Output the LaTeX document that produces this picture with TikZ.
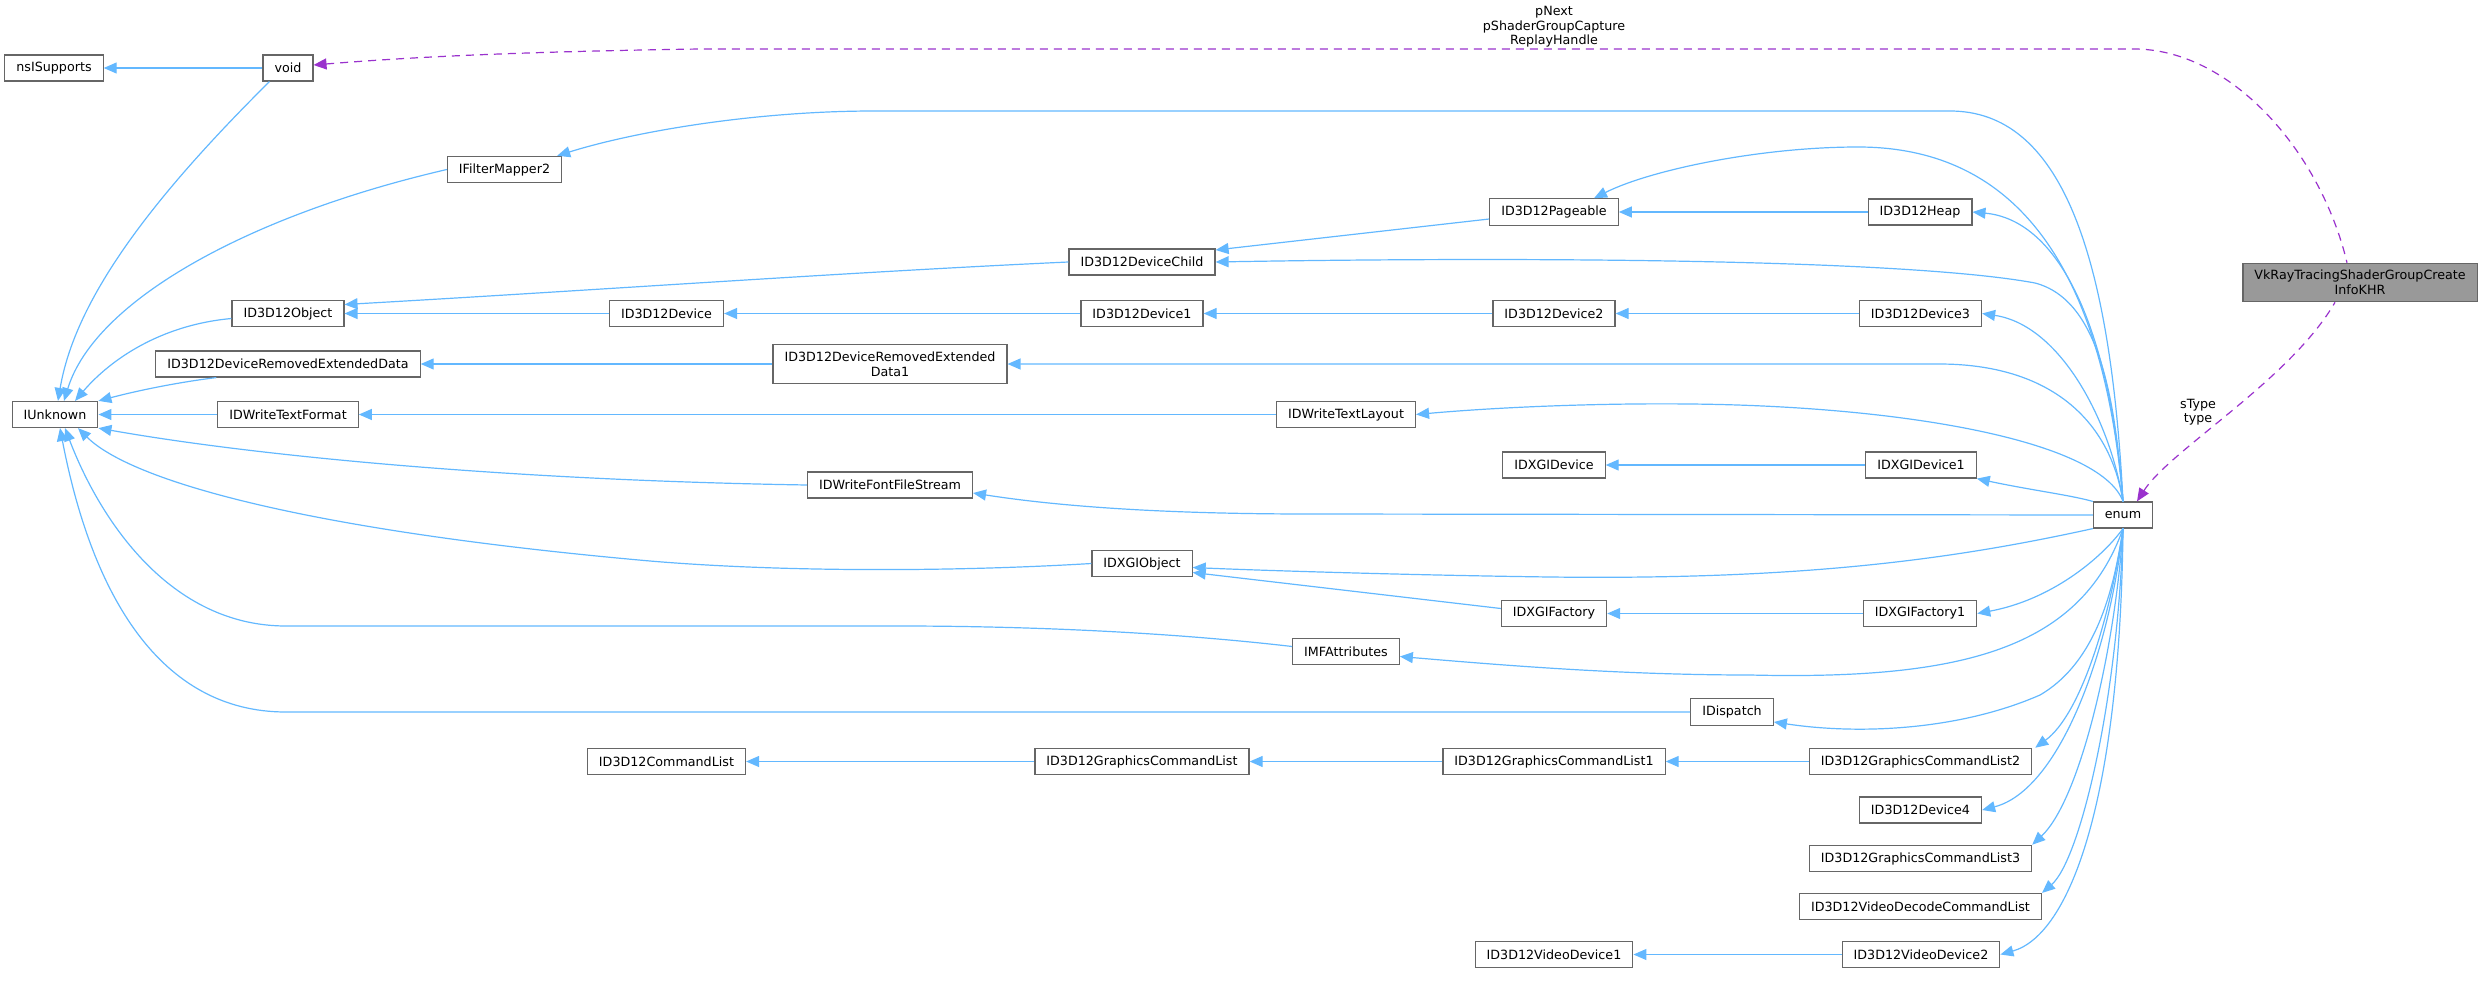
\documentclass[tikz,border=0pt]{standalone}
\usepackage{fontspec}
\setmainfont{DejaVu Sans}
\usetikzlibrary{arrows.meta, calc}
\definecolor{EdgeBlue}{RGB}{99, 184, 255}
\definecolor{RefPurple}{RGB}{154, 50, 205}
\definecolor{BoxBorder}{RGB}{102, 102, 102}
\definecolor{FocusFill}{RGB}{153, 153, 153}

\begin{document}
\begin{tikzpicture}[
        x=0.5pt, y=-0.5pt,
        font=\fontsize{6.35}{7.3}\selectfont,
        cls/.style={draw=BoxBorder, line width=0.6pt, fill=white, minimum height=13pt, inner xsep=5.75pt, inner ysep=3.5pt, align=center},
        focus/.style={cls, fill=FocusFill},
        inh/.style={draw=EdgeBlue, line width=0.6pt, {Triangle[length=6.5pt,width=5.5pt]}-},
        member/.style={draw=RefPurple, line width=0.6pt, dash pattern=on 4pt off 3pt, {Triangle[length=6.5pt,width=5.5pt]}-},
        lbl/.style={align=center}
    ]
        \useasboundingbox (0,0) rectangle (2484,985);

        % left columns
        \node[cls] (nsisupports) at (54,68) {nsISupports};
        \node[cls] (void) at (288,68) {void};
        \node[cls] (iunknown) at (55,414.5) {IUnknown};
        \node[cls] (ifm) at (504.5,169.5) {IFilterMapper2};
        \node[cls] (d3dobject) at (288,313.5) {ID3D12Object};
        \node[cls] (dred) at (288,364) {ID3D12DeviceRemovedExtendedData};
        \node[cls] (dwtf) at (288,414.5) {IDWriteTextFormat};

        % middle columns
        \node[cls] (d3ddevice) at (666.5,313.5) {ID3D12Device};
        \node[cls] (cmdlist) at (666.5,761.5) {ID3D12CommandList};
        \node[cls] (dred1) at (890,364) {ID3D12DeviceRemovedExtended\\Data1};
        \node[cls] (ffs) at (890,485) {IDWriteFontFileStream};
        \node[cls] (dchild) at (1142,262) {ID3D12DeviceChild};
        \node[cls] (d3ddevice1) at (1142,313.5) {ID3D12Device1};
        \node[cls] (dxgiobject) at (1142,563.5) {IDXGIObject};
        \node[cls] (gfxcmdlist) at (1142,761.5) {ID3D12GraphicsCommandList};
        \node[cls] (dwtl) at (1346,414.5) {IDWriteTextLayout};
        \node[cls] (imf) at (1346,651.5) {IMFAttributes};

        % right columns
        \node[cls] (pageable) at (1554,212) {ID3D12Pageable};
        \node[cls] (d3ddevice2) at (1554,313.5) {ID3D12Device2};
        \node[cls] (dxgidevice) at (1554,465) {IDXGIDevice};
        \node[cls] (dxgifactory) at (1554,613.5) {IDXGIFactory};
        \node[cls] (gfxcmdlist1) at (1554,761.5) {ID3D12GraphicsCommandList1};
        \node[cls] (vdev1) at (1554,954.5) {ID3D12VideoDevice1};
        \node[cls] (idispatch) at (1732,712) {IDispatch};
        \node[cls] (heap) at (1920,212) {ID3D12Heap};
        \node[cls] (d3ddevice3) at (1920.5,313.5) {ID3D12Device3};
        \node[cls] (dxgidevice1) at (1921,465) {IDXGIDevice1};
        \node[cls] (dxgifactory1) at (1920,613.5) {IDXGIFactory1};
        \node[cls] (gfxcmdlist2) at (1920.5,761.5) {ID3D12GraphicsCommandList2};
        \node[cls] (d3ddevice4) at (1920.5,810) {ID3D12Device4};
        \node[cls] (gfxcmdlist3) at (1920.5,858.5) {ID3D12GraphicsCommandList3};
        \node[cls] (vdecode) at (1920.5,906.5) {ID3D12VideoDecodeCommandList};
        \node[cls] (vdev2) at (1921,954.5) {ID3D12VideoDevice2};
        \node[cls] (enum) at (2123,515) {enum};
        \node[focus] (vkray) at (2360,282.5) {VkRayTracingShaderGroupCreate\\InfoKHR};

        % edge labels
        \node[lbl] (nextlbl) at (1554,27) {pNext\\pShaderGroupCapture\\ReplayHandle};
        \node[lbl] (typelbl) at (2198,412) {sType\\type};

        % straight inheritance
        \draw[inh] (nsisupports) -- (void);
        \draw[inh] (iunknown) -- (dwtf);
        \draw[inh] (d3dobject) -- (d3ddevice);
        \draw[inh] (d3ddevice) -- (d3ddevice1);
        \draw[inh] (d3ddevice1) -- (d3ddevice2);
        \draw[inh] (d3ddevice2) -- (d3ddevice3);
        \draw[inh] (dred) -- (dred1);
        \draw[inh] (dwtf) -- (dwtl);
        \draw[inh] (pageable) -- (heap);
        \draw[inh] (dxgidevice) -- (dxgidevice1);
        \draw[inh] (dxgifactory) -- (dxgifactory1);
        \draw[inh] (cmdlist) -- (gfxcmdlist);
        \draw[inh] (gfxcmdlist) -- (gfxcmdlist1);
        \draw[inh] (gfxcmdlist1) -- (gfxcmdlist2);
        \draw[inh] (vdev1) -- (vdev2);
        \draw[inh] ($(dchild.east)+(0,-12)$) -- ($(pageable.west)+(0,7)$);
        \draw[inh] ($(dxgiobject.east)+(0,9)$) -- ($(dxgifactory.west)+(0,-5)$);

        % into IUnknown
        \draw[inh] ($(iunknown.north)+(3,0)$) .. controls (75,300) and (150,200) .. ($(void.south west)+(7,0)$);
        \draw[inh] ($(iunknown.north)+(9,0)$) .. controls (95,300) and (250,215) .. (ifm.west);
        \draw[inh] ($(iunknown.north)+(20,0)$) .. controls (110,360) and (160,325) .. ($(d3dobject.west)+(0,5)$);
        \draw[inh] (iunknown.north east) .. controls (140,390) and (180,382) .. ($(dred.south west)+(61,0)$);
        \draw[inh] (iunknown.south east) .. controls (250,455) and (500,480) .. (ffs.west);
        \draw[inh] ($(iunknown.south)+(23,0)$) .. controls (130,480) and (300,530) .. (650,561) .. controls (780,572) and (950,572) .. (dxgiobject.west);
        \draw[inh] ($(iunknown.south)+(10,0)$) .. controls (100,520) and (170,626) .. (286,626) -- (900,626) .. controls (1000,626) and (1150,630) .. ($(imf.west)+(0,-5)$);
        \draw[inh] ($(iunknown.south)+(5,0)$) .. controls (92,595) and (160,712) .. (286,712) -- (idispatch.west);
        \draw[inh] ($(d3dobject.east)+(0,-9)$) .. controls (600,290) and (850,272) .. (dchild.west);

        % out of enum
        \draw[inh] ($(ifm.north east)+(-5,0)$) .. controls (640,130) and (760,111) .. (874,111) -- (1950,111) .. controls (2060,111) and (2110,250) .. (enum.north);
        \draw[inh] ($(pageable.north)+(40,0)$) .. controls (1650,170) and (1760,147) .. (1858,147) .. controls (1990,147) and (2100,230) .. (enum.north);
        \draw[inh] (dchild.east) .. controls (1500,257) and (1900,258) .. (2035,283) .. controls (2100,300) and (2115,400) .. (enum.north);
        \draw[inh] (heap.east) .. controls (2060,220) and (2110,330) .. (enum.north);
        \draw[inh] (dred1.east) -- (1939,364) .. controls (2050,364) and (2110,420) .. (enum.north);
        \draw[inh] (d3ddevice3.east) .. controls (2060,325) and (2110,420) .. (enum.north);
        \draw[inh] (dwtl.east) .. controls (1500,407) and (1600,403) .. (1690,404) .. controls (1900,406) and (2100,440) .. (enum.north);
        \draw[inh] (dxgidevice1.south east) .. controls (2030,490) and (2070,495) .. (enum.north west);
        \draw[inh] ($(ffs.east)+(0,8)$) .. controls (1050,505) and (1150,514) .. (1310,514) -- (enum.west);
        \draw[inh] ($(dxgiobject.east)+(0,4)$) .. controls (1250,570) and (1400,575) .. (1550,577) .. controls (1800,580) and (1950,560) .. (enum.south west);
        \draw[inh] (dxgifactory1.east) .. controls (2050,600) and (2100,560) .. (enum.south);
        \draw[inh] ($(imf.east)+(0,5)$) .. controls (1500,665) and (1620,675) .. (1750,675) .. controls (1960,680) and (2080,650) .. (enum.south);
        \draw[inh] ($(idispatch.east)+(0,10)$) .. controls (1860,735) and (1960,730) .. (2040,695) .. controls (2100,660) and (2115,580) .. (enum.south);
        \draw[inh] ($(gfxcmdlist2.north east)+(3,0)$) .. controls (2080,715) and (2110,620) .. (enum.south);
        \draw[inh] (d3ddevice4.east) .. controls (2060,790) and (2110,650) .. (enum.south);
        \draw[inh] (gfxcmdlist3.north east) .. controls (2080,800) and (2115,650) .. (enum.south);
        \draw[inh] (vdecode.north east) .. controls (2080,860) and (2118,700) .. (enum.south);
        \draw[inh] (vdev2.east) .. controls (2070,935) and (2120,800) .. (enum.south);

        % usage
        \draw[member] ($(void.east)+(0,-3)$) .. controls (400,58) and (500,52) .. (700,49) -- (2134,49) .. controls (2230,49) and (2320,150) .. ($(vkray.north)+(-13,0)$);
        \draw[member] ($(enum.north)+(14,0)$) .. controls (2170,450) and (2290,380) .. ($(vkray.south)+(-25,0)$);
    \end{tikzpicture}
\end{document}
